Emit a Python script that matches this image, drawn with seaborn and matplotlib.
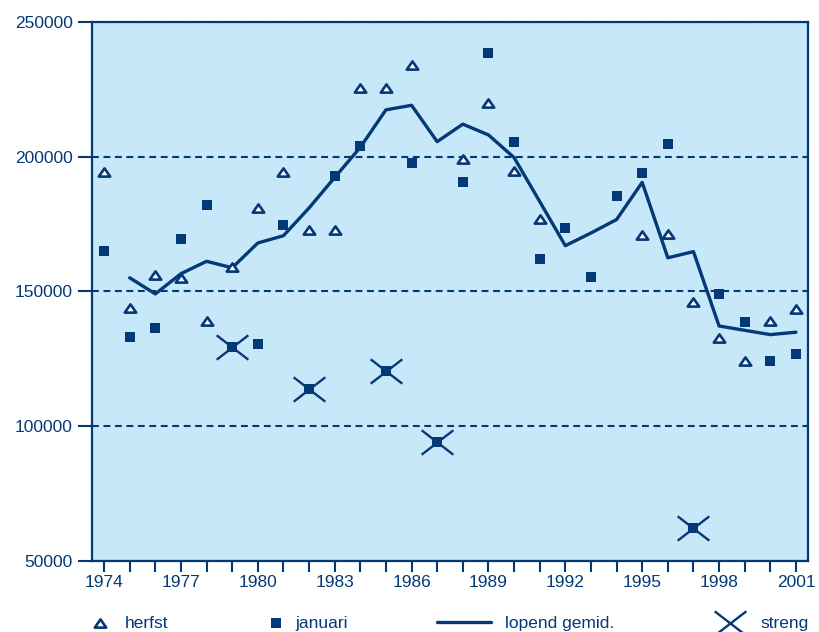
import matplotlib
matplotlib.use("Agg")
import matplotlib.pyplot as plt
from matplotlib.path import Path
from matplotlib.ticker import MultipleLocator
import pandas as pd
import seaborn as sns

# Data
herfst_years = [1974, 1975, 1976, 1977, 1978, 1979, 1980, 1981, 1982, 1983, 1984, 1985, 1986,
                1988, 1989, 1990, 1991,
                1995, 1996, 1997, 1998, 1999, 2000, 2001]
herfst_values = [194400, 144000, 156000, 155000, 139000, 159000, 181000, 194500, 173000, 173000, 225400, 225400, 234000,
                 199000, 220000, 194700, 177000,
                 171000, 171300, 146000, 132600, 124200, 138900, 143600]

januari_years = list(range(1974, 2002))
januari_values = [165200, 133200, 136600, 169500, 182200, 129300, 130600, 174700, 114000, 193000,
                  204100, 120400, 197800, 94300, 190600, 238400, 205400, 162100, 173600, 155400,
                  185400, 194000, 204700, 62100, 149100, 138800, 124300, 126900]

gemid_years = list(range(1975, 2002))
gemid_values = [155100, 149100, 156600, 161200, 158800, 168000, 170700, 181000, 192300, 203500,
                217400, 219100, 205600, 212100, 208100, 199700, 183400, 167000, 171700, 176700,
                190500, 162500, 164800, 137200, 135600, 134000, 134900]

streng_years = [1979, 1982, 1985, 1987, 1997]

labels = ["herfst", "januari", "lopend gemid.", "streng"]

herfst = pd.DataFrame({"jaar": herfst_years, "aantal": herfst_values})
januari = pd.DataFrame({"jaar": januari_years, "aantal": januari_values})
gemid = pd.DataFrame({"jaar": gemid_years, "aantal": gemid_values})
streng = januari[januari["jaar"].isin(streng_years)]

navy = "#043977"
light_blue = "#c6e8f8"

sns.set_style("white")
plt.rcParams["font.family"] = ["Liberation Sans", "DejaVu Sans"]
plt.rcParams["font.size"] = 12.5

fig = plt.figure(figsize=(8.19, 6.32), dpi=100)
ax = fig.add_axes([92 / 819, 1 - 561 / 632, (808 - 92) / 819, (561 - 22) / 632])
ax.set_facecolor(light_blue)

# custom markers: flat triangle and a wide cross
tri = Path([(-1, -0.72), (1, -0.72), (0, 0.72), (-1, -0.72)], closed=True)
cross = Path([(-1, -0.77), (1, 0.77), (-1, 0.77), (1, -0.77)],
             [Path.MOVETO, Path.LINETO, Path.MOVETO, Path.LINETO])

sns.lineplot(data=gemid, x="jaar", y="aantal", color=navy, linewidth=2.4, label=labels[2], ax=ax, zorder=3)
sns.scatterplot(data=herfst, x="jaar", y="aantal", marker=tri, s=68, color="white",
                edgecolor=navy, linewidth=1.9, label=labels[0], ax=ax, zorder=4)
sns.scatterplot(data=januari, x="jaar", y="aantal", marker="s", s=60, color=navy,
                linewidth=0, label=labels[1], ax=ax, zorder=4)
sns.scatterplot(data=streng, x="jaar", y="aantal", marker=cross, s=520, color=navy,
                edgecolor=navy, linewidth=1.7, label=labels[3], ax=ax, zorder=4)

ax.set_xlim(1973.53, 2001.47)
ax.set_ylim(50000, 250000)
ax.xaxis.set_major_locator(MultipleLocator(3))
ax.xaxis.set_minor_locator(MultipleLocator(1))
ax.yaxis.set_major_locator(MultipleLocator(50000))

ax.grid(axis="y", color=navy, linestyle=(0, (3.3, 2.2)), linewidth=1.5)
ax.set_axisbelow(True)

for side in ["top", "bottom", "left", "right"]:
    ax.spines[side].set_color(navy)
    ax.spines[side].set_linewidth(1.6)

ax.tick_params(axis="x", which="both", direction="out", length=8, width=1.5,
               color=navy, labelcolor=navy, labelsize=12.5, pad=2, bottom=True)
ax.tick_params(axis="y", direction="out", length=10, width=1.5,
               color=navy, labelcolor=navy, labelsize=12.5, pad=4, left=True)
ax.set_xlabel("")
ax.set_ylabel("")

# legend below the plot: one small legend per entry, placed like the original
handles, hlabels = ax.get_legend_handles_labels()
lookup = dict(zip(hlabels, handles))
ax.get_legend().remove()

em = 12.5 * 100 / 72
legend_specs = [  # label, handle start px, handle length px, text start px
    (labels[0], 91.3, em, 125),
    (labels[1], 267.3, em, 295),
    (labels[2], 437, 54, 505),
    (labels[3], 721.3, em, 760),
]
for lab, start, hl, text_x in legend_specs:
    fig.legend([lookup[lab]], [lab], loc="center left",
               bbox_to_anchor=(start / 819, 1 - 623 / 632), bbox_transform=fig.transFigure,
               frameon=False, borderpad=0, borderaxespad=0,
               handlelength=hl / em, handletextpad=(text_x - start - hl) / em,
               labelcolor=navy, fontsize=12.5, scatterpoints=1)

fig.savefig("out.png", dpi=100)
